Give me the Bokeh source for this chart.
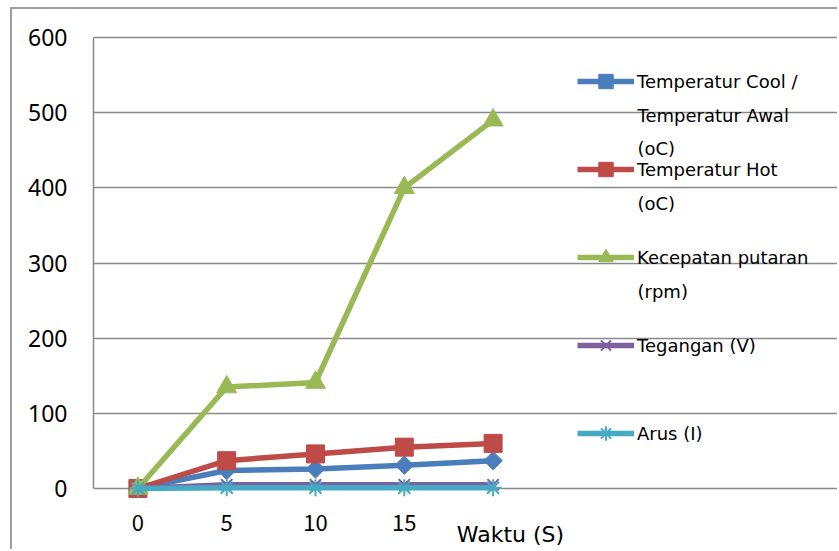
import math
from bokeh.plotting import figure
from bokeh.models import (ColumnDataSource, Legend, LegendItem, Label,
                          FixedTicker, Range1d)
from bokeh.core.properties import value
from bokeh.embed import file_html
from bokeh.resources import INLINE

# Time categories (seconds) and their tick labels
waktu = [0, 5, 10, 15, 20]
x_labels = ["0", "5", "10", "15", ""]
x_title = "Waktu (S)"

# Measured series
temp_cool = [0, 24, 26, 31, 37]
temp_hot = [0, 37, 46, 55, 60]
rpm = [0, 135, 141, 400, 490]
tegangan = [0, 5, 5, 5, 5]
arus = [0, 1, 1, 1, 1]

series_names = [
    ["Temperatur Cool /", "Temperatur Awal", "(oC)"],
    ["Temperatur Hot", "(oC)"],
    ["Kecepatan putaran", "(rpm)"],
    ["Tegangan (V)"],
    ["Arus (I)"],
]

y_ticks = [0, 100, 200, 300, 400, 500, 600]

# ---- page geometry (pixels) ----
PAGE_W, PAGE_H = 839, 551
OFF_X, OFF_Y = 12, 9            # figure origin after margin + border
AX_LEFT, AX_RIGHT = 93, 537     # plotting area of the category axis
Y0_PX, Y600_PX = 488, 37        # pixel rows of value 0 and 600
FRAME_TOP = 35

n = len(waktu)
px_per_x = (AX_RIGHT - AX_LEFT) / n
px_per_y = (Y0_PX - Y600_PX) / 600.0
x_start = -0.5
x_end = x_start + (PAGE_W - AX_LEFT) / px_per_x
y_end = 600 + (Y600_PX - FRAME_TOP) / px_per_y
y_start = -(PAGE_H - Y0_PX) / px_per_y


def dx(px):
    return x_start + (px - AX_LEFT) / px_per_x


def dy(py):
    return (Y0_PX - py) / px_per_y


idx = list(range(n))
src = ColumnDataSource(dict(i=idx, cool=temp_cool, hot=temp_hot, rpm=rpm,
                            v=tegangan, a=arus))

p = figure(width=PAGE_W - OFF_X, height=PAGE_H - OFF_Y,
           output_backend="svg", toolbar_location=None,
           x_range=Range1d(x_start, x_end), y_range=Range1d(y_start, y_end),
           min_border_left=AX_LEFT - OFF_X, min_border_right=0,
           min_border_top=FRAME_TOP - OFF_Y, min_border_bottom=0)
p.styles = {"margin-left": "10px", "margin-top": "7px",
            "border-left": "2px solid #9e9e9e", "border-top": "2px solid #9e9e9e"}
p.outline_line_color = None
p.background_fill_color = "white"
p.border_fill_color = "white"

# value grid, limited to the plotting area
p.xgrid.grid_line_color = None
p.ygrid.grid_line_color = "#8a8a8a"
p.ygrid.grid_line_width = 1.5
p.ygrid.ticker = FixedTicker(ticks=y_ticks)
p.ygrid.bounds = (x_start, x_start + n)

# value axis
p.yaxis.ticker = FixedTicker(ticks=y_ticks)
p.yaxis.bounds = (0, 600)
p.yaxis.axis_line_color = "#8a8a8a"
p.yaxis.axis_line_width = 1.5
p.yaxis.major_tick_line_color = None
p.yaxis.minor_tick_line_color = None
p.yaxis.major_label_standoff = 20
p.yaxis.major_label_text_font = "Noto Sans"
p.yaxis.major_label_text_font_size = "23px"
p.yaxis.major_label_text_color = "black"

# the category labels sit inside the canvas next to the axis title
p.xaxis.visible = False
p.text(x=idx, y=[dy(522)] * n, text=x_labels,
       text_font=value("Noto Sans CJK JP"), text_font_size="22px",
       text_color="black", text_align="center", text_baseline="middle")
p.add_layout(Label(x=dx(510), y=dy(534), text=x_title,
                   text_font="DejaVu Sans", text_font_size="22px",
                   text_color="black", text_align="center",
                   text_baseline="middle"))

colors = ["#4a7ebb", "#be4b48", "#98b954", "#7d60a0", "#46aac5"]
LW = 5.5

r_cool = p.line("i", "cool", source=src, color=colors[0], line_width=LW)
m_cool = p.scatter("i", "cool", source=src, marker="square", angle=math.pi / 4,
                   size=13, color=colors[0])
r_hot = p.line("i", "hot", source=src, color=colors[1], line_width=LW)
m_hot = p.scatter("i", "hot", source=src, marker="square", size=18,
                  color=colors[1])
r_rpm = p.line("i", "rpm", source=src, color=colors[2], line_width=LW)
m_rpm = p.scatter("i", "rpm", source=src, marker="triangle", size=20,
                  color=colors[2])
r_v = p.line("i", "v", source=src, color=colors[3], line_width=LW)
m_v = p.scatter("i", "v", source=src, marker="x", size=16,
                line_color=colors[3], line_width=2)
r_a = p.line("i", "a", source=src, color=colors[4], line_width=LW)
m_a = p.scatter("i", "a", source=src, marker="asterisk", size=17,
                line_color=colors[4], line_width=2)

renderers = [(r_cool, m_cool), (r_hot, m_hot), (r_rpm, m_rpm), (r_v, m_v),
             (r_a, m_a)]
items = [LegendItem(label=names[0], renderers=list(rr))
         for names, rr in zip(series_names, renderers)]

ITEM_H = 36
PITCH = 88
FIRST_ROW = 81                  # centre of the first legend row
LEG_FONT = "18px"
LEG_TEXT_X = 637
legend = Legend(items=items, glyph_width=57, glyph_height=ITEM_H,
                label_height=ITEM_H, spacing=PITCH - ITEM_H, padding=0,
                margin=0, label_standoff=3, border_line_color=None,
                background_fill_alpha=0,
                label_text_font="DejaVu Sans",
                label_text_font_size=LEG_FONT, label_text_color="black")
leg_h = ITEM_H * len(items) + (PITCH - ITEM_H) * (len(items) - 1)
leg_bottom = FIRST_ROW - ITEM_H / 2 + leg_h
legend.location = (577 - AX_LEFT, PAGE_H - leg_bottom)
p.add_layout(legend, "center")

# wrapped continuation lines of the legend labels
LINE_STEP = 33.5
for k, names in enumerate(series_names):
    row = FIRST_ROW + k * PITCH
    for j, line in enumerate(names[1:], start=1):
        p.add_layout(Label(x=dx(LEG_TEXT_X), y=dy(row + j * LINE_STEP),
                           text=line, text_font="DejaVu Sans",
                           text_font_size=LEG_FONT, text_color="black",
                           text_baseline="middle", text_align="left"))

open("out.html", "w").write(file_html(p, INLINE))
